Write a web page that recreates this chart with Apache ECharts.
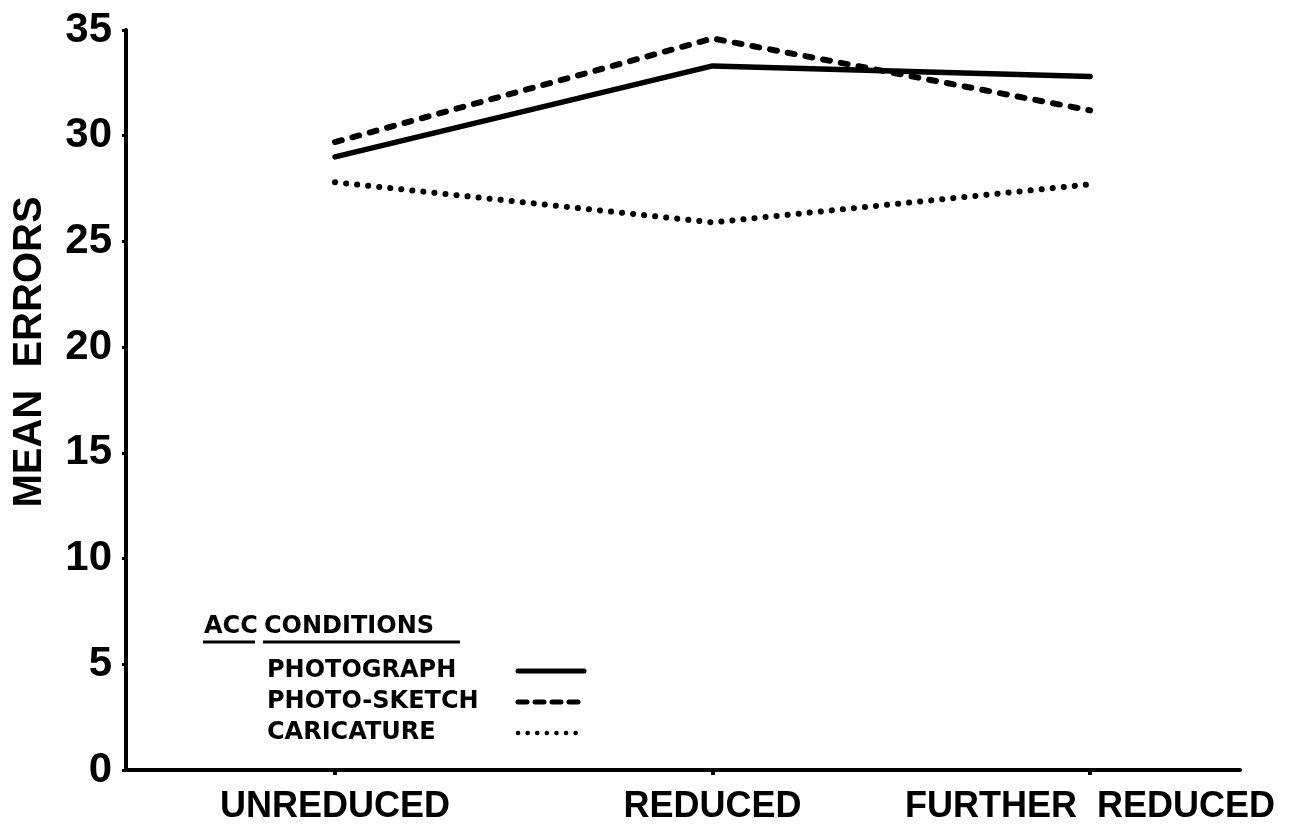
<!DOCTYPE html>
<html><head><meta charset="utf-8">
<script src="https://cdn.jsdelivr.net/npm/echarts@6/dist/echarts.min.js"></script>
<style>html,body{margin:0;padding:0;background:#fff}#c{width:1295px;height:835px}</style>
</head><body><div id="c"></div>
<script>
const categories = ['UNREDUCED', 'REDUCED', 'FURTHER REDUCED'];
const seriesNames = ['PHOTOGRAPH', 'PHOTO-SKETCH', 'CARICATURE'];
const photograph = [29.0, 33.3, 32.8];
const photoSketch = [29.7, 34.6, 31.2];
const caricature = [27.8, 25.9, 27.7];
const yTicks = [0, 5, 10, 15, 20, 25, 30, 35];
const yAxisTitle = 'MEAN  ERRORS';
const legendTitleWords = ['ACC', 'CONDITIONS'];

const catIdx = categories.map((c, i) => i);
const pairs = arr => arr.map((v, i) => [catIdx[i], v]);
const BOLD = 'bold';
const F_MAIN = '"Liberation Sans", Arial, sans-serif';
const F_LEG = '"DejaVu Sans", sans-serif';

const styles = [
  {color: '#000', width: 5.5, type: 'solid', cap: 'round', join: 'round'},
  {color: '#000', width: 6, type: [7, 11], cap: 'round', join: 'round'},
  {color: '#000', width: 6, type: [0.1, 11], cap: 'round', join: 'round'}
];
const legendStyles = [
  {color: '#000', width: 5, type: 'solid', cap: 'round'},
  {color: '#000', width: 5, type: [9, 8], cap: 'round'},
  {color: '#000', width: 4.5, type: [0.1, 9.5], cap: 'round'}
];

const chart = echarts.init(document.getElementById('c'), null, {renderer: 'canvas'});
chart.setOption({
  backgroundColor: '#fff',
  color: ['#000', '#000', '#000'],
  animation: false,
  grid: {left: 126, right: 55, top: 30, bottom: 65, containLabel: false},
  xAxis: {
    type: 'value',
    min: -0.5536, max: 2.397,
    splitLine: {show: false},
    axisLine: {show: true, onZero: false, lineStyle: {color: '#000', width: 4}},
    axisTick: {show: true, customValues: catIdx, length: 5, lineStyle: {color: '#000', width: 4}},
    axisLabel: {
      customValues: catIdx,
      formatter: v => (categories[Math.round(v)] || '').replace(' ', '  '),
      color: '#000', fontFamily: F_MAIN, fontWeight: BOLD, fontSize: 36, margin: 19
    }
  },
  yAxis: {
    type: 'value',
    min: yTicks[0], max: yTicks[yTicks.length - 1], interval: yTicks[1] - yTicks[0],
    splitLine: {show: false},
    axisLine: {show: true, onZero: false, lineStyle: {color: '#000', width: 4}},
    axisTick: {show: true, length: 4, lineStyle: {color: '#000', width: 3}},
    axisLabel: {color: '#000', fontFamily: F_MAIN, fontWeight: BOLD, fontSize: 42, margin: 14}
  },
  legend: {
    orient: 'vertical',
    align: 'right',
    left: 262, top: 654,
    itemWidth: 66, itemHeight: 20, itemGap: 7,
    data: seriesNames.map((n, i) => ({
      name: n,
      itemStyle: {color: 'rgba(0,0,0,0)', borderWidth: 0},
      lineStyle: legendStyles[i]
    })),
    formatter: name => '{t|' + name + '}',
    textStyle: {
      color: '#000',
      rich: {t: {width: 246, align: 'left', fontFamily: F_LEG, fontWeight: BOLD, fontSize: 24, lineHeight: 20, color: '#000'}}
    }
  },
  graphic: [
    {type: 'text', x: 30, y: 352, rotation: Math.PI / 2,
     style: {text: yAxisTitle, fill: '#000', font: 'bold 40px "Liberation Sans", Arial, sans-serif', align: 'center', verticalAlign: 'middle'}},
    {type: 'text', x: 204, y: 627,
     style: {text: legendTitleWords[0], fill: '#000', font: 'bold 24px "DejaVu Sans", sans-serif', align: 'left', verticalAlign: 'middle'}},
    {type: 'text', x: 264, y: 627,
     style: {text: legendTitleWords[1], fill: '#000', font: 'bold 24px "DejaVu Sans", sans-serif', align: 'left', verticalAlign: 'middle'}},
    {type: 'line', shape: {x1: 203, y1: 642, x2: 255, y2: 642}, style: {stroke: '#000', lineWidth: 3}},
    {type: 'line', shape: {x1: 263, y1: 642, x2: 460, y2: 642}, style: {stroke: '#000', lineWidth: 3}}
  ],
  series: [
    {name: seriesNames[0], type: 'line', data: pairs(photograph), symbol: 'none', lineStyle: styles[0]},
    {name: seriesNames[1], type: 'line', data: pairs(photoSketch), symbol: 'none', lineStyle: styles[1]},
    {name: seriesNames[2], type: 'line', data: pairs(caricature), symbol: 'none', lineStyle: styles[2]}
  ]
});
</script>
</body></html>
